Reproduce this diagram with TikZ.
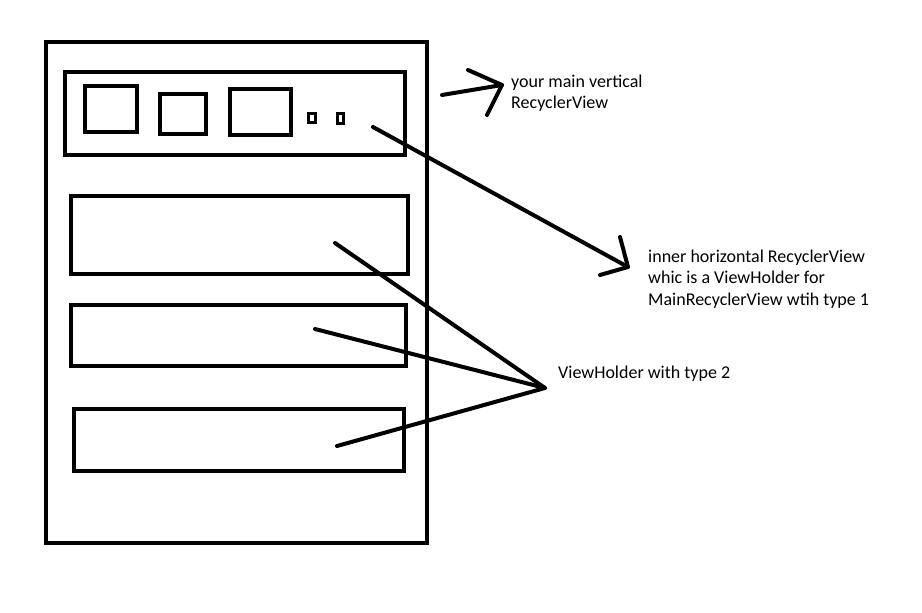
\documentclass[tikz,border=0pt]{standalone}
\usepackage{fontspec}
\setmainfont{Carlito}
\begin{document}
\begin{tikzpicture}[x=1pt,y=-1pt,
  boxframe/.style={draw=black, line width=4pt, inner sep=0pt, outer sep=0pt},
  tinyframe/.style={draw=black, line width=3pt, inner sep=0pt, outer sep=0pt},
  stroke/.style={draw=black, line width=4pt, line cap=round, line join=round},
  label/.style={font=\fontsize{18}{21.5}\selectfont, align=left, anchor=west, inner sep=0pt, text=black}]
\useasboundingbox (0,0) rectangle (922,613);
\newcommand{\rectnode}[6]{%
  \node[#2, minimum width={(#5-#3)*1pt}, minimum height={(#6-#4)*1pt}] (#1) at ({(#3+#5)/2},{(#4+#6)/2}) {};}
\rectnode{outer}{boxframe}{46}{42}{427}{543}
\rectnode{top}{boxframe}{65}{72}{405}{155}
\rectnode{ia}{boxframe}{85}{86}{137}{132}
\rectnode{ib}{boxframe}{160}{94}{206}{134}
\rectnode{ic}{boxframe}{230}{89}{291}{135}
\rectnode{ta}{tinyframe}{308}{113}{315}{122}
\rectnode{tb}{tinyframe}{337}{113}{343}{123}
\rectnode{ra}{boxframe}{71}{196}{408}{274}
\rectnode{rb}{boxframe}{71}{305}{406}{366}
\rectnode{rc}{boxframe}{74}{409}{404}{471}
% labels
\node[label] (l1) at (511,93) {your main vertical\\RecyclerView};
\node[label] (l2) at (648,279) {inner horizontal RecyclerView\\whic is a ViewHolder for\\MainRecyclerView wtih type 1};
\node[label] (l3) at (558,374) {ViewHolder with type 2};
% arrow points
\coordinate (a1s) at (442,95);
\coordinate (a1t) at (502,85);
\coordinate (a1u) at (468,70);
\coordinate (a1d) at (487,115);
\coordinate (a2s) at (373,127);
\coordinate (a2t) at (628,267);
\coordinate (a2u) at (620,237);
\coordinate (a2d) at (600,275);
\coordinate (vt) at (545,388);
\coordinate (v1) at (335,243);
\coordinate (v2) at (315,329);
\coordinate (v3) at (337,446);
\draw[stroke] (a1s) -- (a1t);
\draw[stroke] (a1u) -- (a1t) -- (a1d);
\draw[stroke] (a2s) -- (a2t);
\draw[stroke] (a2u) -- (a2t) -- (a2d);
\draw[stroke] (v1) -- (vt) -- (v3);
\draw[stroke] (v2) -- (vt);
\end{tikzpicture}
\end{document}
